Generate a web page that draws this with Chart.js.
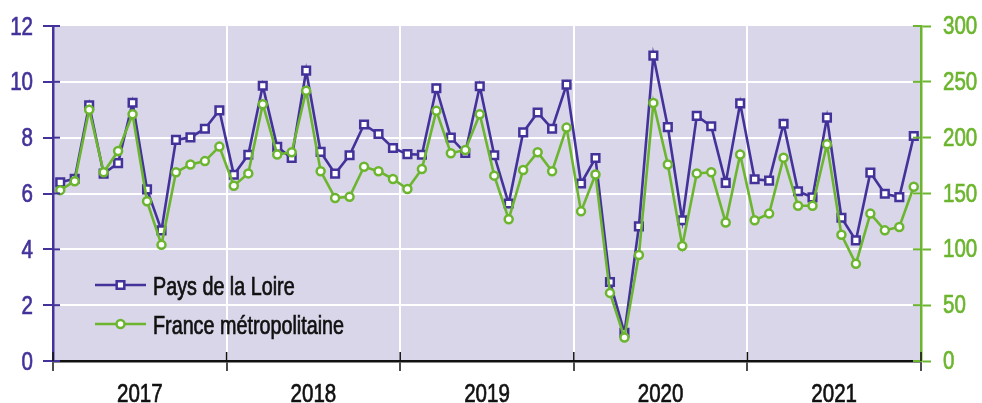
<!DOCTYPE html>
<html>
<head>
<meta charset="utf-8">
<script src="https://cdn.jsdelivr.net/npm/chart.js@4"></script>
<style>
html, body { margin: 0; padding: 0; background: #fff; }
</style>
</head>
<body>
<canvas id="chart" width="982" height="403"></canvas>
<script>
// years shown under the axis, one block of 12 months each
var years = ['2017', '2018', '2019', '2020', '2021'];
var monthsPerYear = 12;

// Pays de la Loire (left axis)
var paysDeLaLoire = [
  6.40, 6.53, 9.16, 6.71, 7.09, 9.25, 6.15, 4.68, 7.92, 8.01, 8.32, 8.98,
  6.67, 7.39, 9.86, 7.67, 7.27, 10.40, 7.49, 6.71, 7.37, 8.47, 8.13, 7.63,
  7.41, 7.39, 9.77, 8.00, 7.45, 9.84, 7.37, 5.64, 8.19, 8.90, 8.32, 9.90,
  6.36, 7.27, 2.83, 1.01, 4.82, 10.94, 8.38, 5.04, 8.78, 8.41, 6.38, 9.23,
  6.51, 6.46, 8.50, 6.08, 5.86, 8.72, 5.13, 4.32, 6.75, 5.99, 5.87, 8.06
];

// France metropolitaine (right axis)
var franceMetro = [
  153, 161, 225, 169, 188, 221, 143, 104, 169, 176, 179, 192,
  157, 168, 230, 185, 187, 242, 170, 146, 147, 174, 170, 163,
  154, 172, 224, 186, 189, 221, 166, 127, 171, 187, 170, 209,
  134, 167, 61, 21, 95, 231, 176, 103, 168, 169, 124, 185,
  126, 132, 182, 139, 139, 194, 113, 87, 132, 117, 120, 156
];

var leftMax = 12, leftStep = 2;
var rightMax = 300, rightStep = 50;

var purple = '#43329a';
var green = '#6cb52e';
var plotBg = '#d9d6e9';
var font = "'Liberation Sans', Arial, sans-serif";
var squeeze = 0.79; // the original uses a condensed face

var nMonths = years.length * monthsPerYear;

function toPoints(arr) {
  return arr.map(function (v, i) { return { x: i + 0.5, y: v }; });
}

function narrowText(ctx, text, x, y, align) {
  ctx.save();
  ctx.translate(x, y);
  ctx.scale(squeeze, 1);
  ctx.textAlign = align;
  ctx.textBaseline = 'alphabetic';
  ctx.strokeStyle = ctx.fillStyle;
  ctx.lineWidth = 0.7;
  ctx.fillText(text, 0, 0);
  ctx.strokeText(text, 0, 0);
  ctx.restore();
}

// lavender background of the plot
var plotBackground = {
  id: 'plotBackground',
  beforeDraw: function (chart) {
    var a = chart.chartArea, ctx = chart.ctx;
    ctx.save();
    ctx.fillStyle = plotBg;
    ctx.fillRect(a.left, a.top, a.right - a.left, a.bottom - a.top);
    ctx.restore();
  }
};

// tick marks that cross into the plot + condensed axis labels
var axisExtras = {
  id: 'axisExtras',
  afterDraw: function (chart) {
    var ctx = chart.ctx, a = chart.chartArea, s = chart.scales;
    ctx.save();
    ctx.lineWidth = 2;
    ctx.strokeStyle = purple;
    ctx.fillStyle = purple;
    ctx.font = '26px ' + font;
    s.y.ticks.forEach(function (t) {
      var py = s.y.getPixelForValue(t.value);
      ctx.lineWidth = 2;
      ctx.strokeStyle = purple;
      ctx.beginPath(); ctx.moveTo(a.left, py); ctx.lineTo(a.left + 7, py); ctx.stroke();
      narrowText(ctx, String(t.value), a.left - 20, py + 8.5, 'right');
    });
    ctx.fillStyle = green;
    s.y1.ticks.forEach(function (t) {
      var py = s.y1.getPixelForValue(t.value);
      ctx.lineWidth = 2;
      ctx.strokeStyle = green;
      ctx.beginPath(); ctx.moveTo(a.right - 8, py); ctx.lineTo(a.right, py); ctx.stroke();
      narrowText(ctx, String(t.value), a.right + 22, py + 8, 'left');
    });
    ctx.strokeStyle = '#111';
    ctx.lineWidth = 1.5;
    s.x.ticks.forEach(function (t) {
      if (t.value % monthsPerYear !== 0) return;
      var px = s.x.getPixelForValue(t.value);
      ctx.beginPath(); ctx.moveTo(px, a.bottom - 9); ctx.lineTo(px, a.bottom); ctx.stroke();
    });
    ctx.fillStyle = '#111';
    years.forEach(function (y, i) {
      var px = s.x.getPixelForValue(i * monthsPerYear + monthsPerYear / 2);
      narrowText(ctx, y, px, a.bottom + 41, 'center');
    });
    ctx.restore();
  }
};

// legend inside the plot, bottom left
var insideLegend = {
  id: 'insideLegend',
  afterDatasetsDraw: function (chart) {
    var ctx = chart.ctx, a = chart.chartArea;
    var rows = [chart.data.datasets[1], chart.data.datasets[0]];
    ctx.save();
    rows.forEach(function (ds, i) {
      var y = a.top + 259 + i * 39;
      var x0 = a.left + 42, x1 = a.left + 93, xm = (x0 + x1) / 2;
      ctx.strokeStyle = ds.borderColor;
      ctx.lineWidth = ds.borderWidth;
      ctx.beginPath(); ctx.moveTo(x0, y); ctx.lineTo(x1, y); ctx.stroke();
      ctx.fillStyle = ds.pointBackgroundColor;
      ctx.strokeStyle = ds.pointBorderColor;
      ctx.lineWidth = ds.pointBorderWidth;
      ctx.beginPath();
      if (ds.pointStyle === 'rect') {
        var h = ds.pointRadius * Math.SQRT1_2;
        ctx.rect(xm - h, y - h, 2 * h, 2 * h);
      } else {
        ctx.arc(xm, y, ds.pointRadius, 0, Math.PI * 2);
      }
      ctx.fill(); ctx.stroke();
      ctx.fillStyle = '#111';
      ctx.font = '25px ' + font;
      narrowText(ctx, ds.label, a.left + 100, y + 10, 'left');
    });
    ctx.restore();
  }
};

var ctx = document.getElementById('chart').getContext('2d');
var chart = new Chart(ctx, {
  type: 'line',
  data: {
    datasets: [{
      label: 'France métropolitaine',
      data: toPoints(franceMetro),
      yAxisID: 'y1',
      order: 0,
      borderColor: green,
      borderWidth: 2.6,
      pointStyle: 'circle',
      pointRadius: 4,
      pointBackgroundColor: '#fff',
      pointBorderColor: green,
      pointBorderWidth: 2.5,
      tension: 0
    }, {
      label: 'Pays de la Loire',
      data: toPoints(paysDeLaLoire),
      yAxisID: 'y',
      order: 1,
      borderColor: purple,
      borderWidth: 2.6,
      pointStyle: 'rect',
      pointRadius: 5.4,
      pointBackgroundColor: '#fff',
      pointBorderColor: purple,
      pointBorderWidth: 2.5,
      tension: 0
    }]
  },
  options: {
    responsive: false,
    animation: false,
    devicePixelRatio: 1,
    layout: { padding: { top: 26, left: 0, right: 0, bottom: 0 } },
    plugins: {
      legend: { display: false },
      tooltip: { enabled: false }
    },
    scales: {
      x: {
        type: 'linear',
        position: 'bottom',
        min: 0,
        max: nMonths,
        afterFit: function (s) { s.height = 42; },
        ticks: { display: false, stepSize: monthsPerYear, autoSkip: false },
        grid: {
          lineWidth: 2,
          color: function (c) {
            var v = c.tick ? c.tick.value : 0;
            return (v > 0 && v < nMonths) ? '#ffffff' : 'rgba(0,0,0,0)';
          },
          tickColor: '#111',
          tickLength: 10,
          tickWidth: 1.5
        },
        border: { color: '#111', width: 2.5 }
      },
      y: {
        position: 'left',
        min: 0,
        max: leftMax,
        afterFit: function (s) { s.width = 53; },
        ticks: { display: false, stepSize: leftStep },
        grid: {
          lineWidth: 2,
          color: function (c) {
            var v = c.tick ? c.tick.value : 0;
            return (v > 0 && v < leftMax) ? '#ffffff' : 'rgba(0,0,0,0)';
          },
          tickColor: purple,
          tickLength: 10,
          tickWidth: 2
        },
        border: { color: purple, width: 2.5 }
      },
      y1: {
        position: 'right',
        min: 0,
        max: rightMax,
        afterFit: function (s) { s.width = 61; },
        ticks: { display: false, stepSize: rightStep },
        grid: {
          drawOnChartArea: false,
          tickColor: green,
          tickLength: 10,
          tickWidth: 2
        },
        border: { color: green, width: 2.5 }
      }
    }
  },
  plugins: [plotBackground, axisExtras, insideLegend]
});
</script>
</body>
</html>
